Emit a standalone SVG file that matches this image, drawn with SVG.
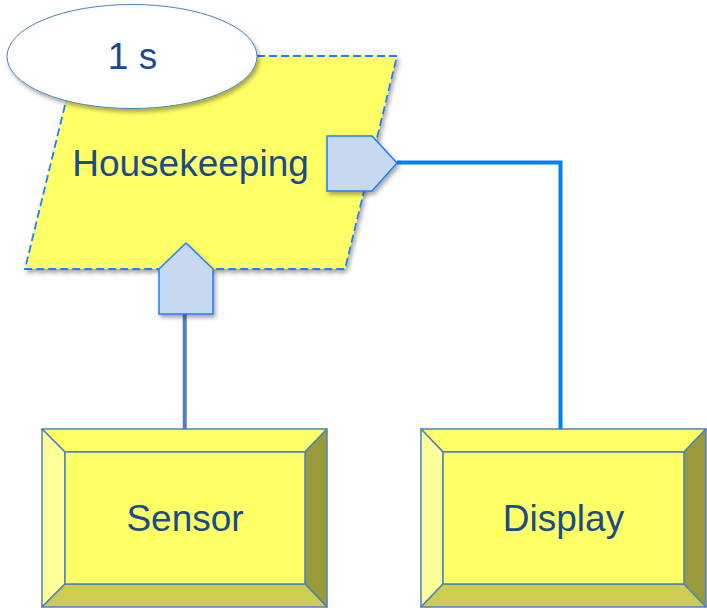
<svg xmlns="http://www.w3.org/2000/svg" width="707" height="608" viewBox="0 0 707 608">
<defs>
<filter id="sh" x="-20%" y="-20%" width="150%" height="150%">
<feDropShadow dx="2" dy="3" stdDeviation="2" flood-color="#000" flood-opacity="0.35"/>
</filter>
<style>
.lbl{font-family:"Liberation Sans",Arial,sans-serif;font-size:37px;fill:#1A4C8A;text-anchor:middle}
.port{fill:#C6D9F0;stroke:#1E80FF;stroke-width:1.5;filter:url(#sh)}
.bev{stroke:#4F81BD;stroke-width:1.5;stroke-linejoin:round}
</style>
</defs>
<g id="connectors" fill="none">
<polyline points="397,162.5 560.5,162.5 560.5,429" stroke="#0080FF" stroke-width="4"/>
<line x1="184.7" y1="314" x2="184.7" y2="429" stroke="#4F81BD" stroke-width="4"/>
</g>
<g id="housekeeping">
<polygon points="77,56 397,56 345,269 25,269" fill="#FFFF66" stroke="#1E80FF" stroke-width="1.8" stroke-dasharray="8,4" filter="url(#sh)"/>
<text class="lbl" x="190.5" y="176">Housekeeping</text>
</g>
<g id="rate">
<ellipse cx="132" cy="56.5" rx="125" ry="52" fill="#FFFFFF" stroke="#4F81BD" stroke-width="1" filter="url(#sh)"/>
<text class="lbl" x="132.5" y="69">1 s</text>
</g>
<g id="out-port">
<polygon class="port" points="327,136 372,136 397,163 372,191 327,191"/>
</g>
<g id="in-port">
<polygon class="port" points="186,243 213,269 213,314 159,314 159,269"/>
</g>
<g id="sensor">
<polygon class="bev" points="42,429 327,429 305,452 65,452" fill="#FFFF66"/>
<polygon class="bev" points="42,429 65,452 65,584 42,607" fill="#FFFF99"/>
<polygon class="bev" points="327,429 327,607 305,584 305,452" fill="#999A3C"/>
<polygon class="bev" points="42,607 65,584 305,584 327,607" fill="#CCCC52"/>
<rect class="bev" x="65" y="452" width="240" height="132" fill="#FFFF66"/>
<text class="lbl" x="185" y="531">Sensor</text>
</g>
<g id="display">
<polygon class="bev" points="421,429 706,429 684,452 443,452" fill="#FFFF66"/>
<polygon class="bev" points="421,429 443,452 443,584 421,607" fill="#FFFF99"/>
<polygon class="bev" points="706,429 706,607 684,584 684,452" fill="#999A3C"/>
<polygon class="bev" points="421,607 443,584 684,584 706,607" fill="#CCCC52"/>
<rect class="bev" x="443" y="452" width="241" height="132" fill="#FFFF66"/>
<text class="lbl" x="563.5" y="531">Display</text>
</g>
</svg>
